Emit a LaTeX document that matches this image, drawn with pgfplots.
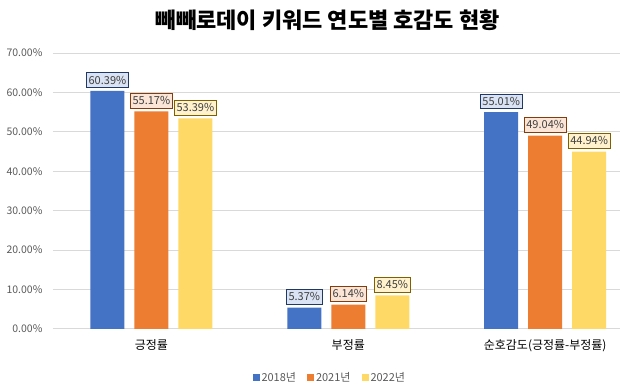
\documentclass[border=0pt]{standalone}
\usepackage{pgfplots}
\pgfplotsset{compat=1.18}
\usepackage{fontspec}
\setmainfont{Noto Sans CJK KR}
\definecolor{cBlue}{HTML}{4472C4}
\definecolor{cOrange}{HTML}{ED7D31}
\definecolor{cYellow}{HTML}{FFD966}
\definecolor{fBlue}{HTML}{DAE3F3}
\definecolor{fOrange}{HTML}{FBE5D6}
\definecolor{fYellow}{HTML}{FFF2CC}
\definecolor{dBlue}{HTML}{203864}
\definecolor{dOrange}{HTML}{843C0C}
\definecolor{dYellow}{HTML}{7F6000}
\definecolor{gridc}{HTML}{D9D9D9}
\definecolor{txt}{HTML}{595959}
\definecolor{txtd}{HTML}{404040}
\begin{document}
\begin{tikzpicture}
\begin{axis}[
  scale only axis,
  width=567pt, height=276pt,
  xmin=-0.5, xmax=2.378,
  ymin=0, ymax=70,
  ytick={0,10,...,70},
  xtick={0,1,2},
  xticklabels={긍정률,부정률,순호감도(긍정률-부정률)},
  ymajorgrids,
  grid style={gridc, line width=0.8pt},
  axis line style={draw=none},
  major tick length=0pt,
  /pgf/number format/assume math mode=true,
  yticklabel={\pgfmathprintnumber[fixed,fixed zerofill,precision=2]{\tick}\%},
  yticklabel style={font=\fontsize{10.5}{12}\selectfont, text=txt, xshift=-7pt},
  xticklabel style={font=\fontsize{12}{14}\selectfont, text=black, yshift=-7pt},
  ybar=10pt,
  bar width=34pt,
  clip=false,
  nodes near coords={\pgfmathprintnumber[fixed,fixed zerofill,precision=2]{\pgfplotspointmeta}\%},
  every node near coord/.append style={font=\fontsize{11}{12}\selectfont, text=txtd, inner xsep=2.3pt, inner ysep=3.2pt, yshift=3pt, line width=0.8pt},
  legend style={at={(0.4885,-0.1775)}, anchor=center, draw=none, legend columns=3,
    font=\fontsize{11}{12}\selectfont, text=txt,
    /tikz/every even column/.append style={column sep=9pt}},
  legend image code/.code={\draw[#1, draw=none] (0pt,-3.5pt) rectangle (7pt,3.5pt);},
]
\addplot[fill=cBlue, draw=none, every node near coord/.append style={fill=fBlue, draw=dBlue}] coordinates {(0,60.39) (1,5.37) (2,55.01)};
\addplot[fill=cOrange, draw=none, every node near coord/.append style={fill=fOrange, draw=dOrange}] coordinates {(0,55.17) (1,6.14) (2,49.04)};
\addplot[fill=cYellow, draw=none, every node near coord/.append style={fill=fYellow, draw=dYellow}] coordinates {(0,53.39) (1,8.45) (2,44.94)};
\legend{2018년,2021년,2022년}
\end{axis}
\node[font=\bfseries\fontsize{22}{26}\selectfont] at (275pt,309pt) {빼빼로데이 키워드 연도별 호감도 현황};
\path[use as bounding box] (-53pt,-60pt) rectangle (567pt,329pt);
\end{tikzpicture}
\end{document}
